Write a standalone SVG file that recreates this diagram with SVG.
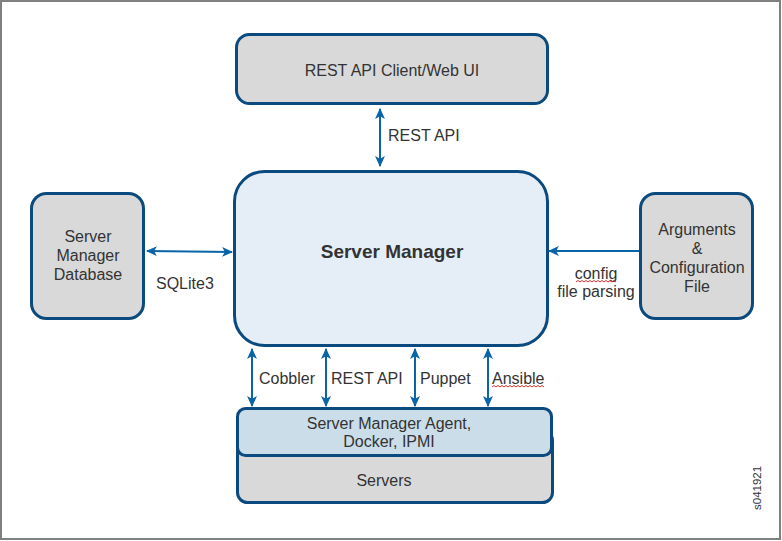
<svg xmlns="http://www.w3.org/2000/svg" width="782" height="541" viewBox="0 0 782 541">
<defs>
<marker id="ah" viewBox="0 0 10 10" refX="9" refY="5" markerWidth="11" markerHeight="11" orient="auto-start-reverse" markerUnits="userSpaceOnUse">
<path d="M0,0.5 L10,5 L0,9.5 L2.5,5 z" fill="#0a64a8"/>
</marker>
</defs>
<style>
.box{stroke:#0b4a7e;stroke-width:3}
.gray{fill:#d9d9d9}
.t{font-family:"Liberation Sans",Arial,sans-serif;font-size:16px;fill:#333;text-anchor:middle}
.l{font-family:"Liberation Sans",Arial,sans-serif;font-size:16px;fill:#333}
.b{font-weight:bold;font-size:19px}
.id{font-size:11.5px}
.c{stroke:#0a64a8;stroke-width:2;fill:none}
.sq{stroke:#e03030;stroke-width:1;fill:none}
</style>
<rect x="1" y="1" width="779" height="538" fill="#fff" stroke="#808080" stroke-width="2"/>
<g id="client">
<rect class="box gray" x="236.5" y="34.5" width="311" height="69" rx="13"/>
<text class="t" x="392" y="76">REST API Client/Web UI</text>
</g>
<g id="manager">
<rect class="box" fill="#e5eef7" x="234.5" y="171.5" width="313" height="174" rx="30"/>
<text class="t b" x="392" y="258">Server Manager</text>
</g>
<g id="database">
<rect class="box gray" x="31.5" y="193.5" width="112" height="125" rx="15"/>
<text class="t" x="88" y="242">Server</text>
<text class="t" x="88" y="261">Manager</text>
<text class="t" x="88" y="280">Database</text>
</g>
<g id="config">
<rect class="box gray" x="640.5" y="193.5" width="112" height="125" rx="15"/>
<text class="t" x="697" y="235">Arguments</text>
<text class="t" x="697" y="254">&amp;</text>
<text class="t" x="697" y="273">Configuration</text>
<text class="t" x="697" y="292">File</text>
</g>
<g id="servers">
<rect class="box gray" x="237.5" y="430.5" width="315" height="72" rx="10"/>
<text class="t" x="384" y="486">Servers</text>
</g>
<g id="agent">
<rect class="box" fill="#cbdde9" x="237.5" y="408.5" width="314" height="47" rx="8"/>
<text class="t" x="389" y="429">Server Manager Agent,</text>
<text class="t" x="389" y="447">Docker, IPMI</text>
</g>
<g id="connectors">
<line class="c" x1="380" y1="109" x2="380" y2="166" marker-start="url(#ah)" marker-end="url(#ah)"/>
<line class="c" x1="147" y1="251" x2="232" y2="252" marker-start="url(#ah)" marker-end="url(#ah)"/>
<line class="c" x1="639" y1="251" x2="549" y2="251" marker-end="url(#ah)"/>
<line class="c" x1="252" y1="349" x2="252" y2="406" marker-start="url(#ah)" marker-end="url(#ah)"/>
<line class="c" x1="326" y1="349" x2="326" y2="406" marker-start="url(#ah)" marker-end="url(#ah)"/>
<line class="c" x1="415" y1="349" x2="415" y2="406" marker-start="url(#ah)" marker-end="url(#ah)"/>
<line class="c" x1="488" y1="349" x2="488" y2="406" marker-start="url(#ah)" marker-end="url(#ah)"/>
</g>
<g id="labels">
<text class="l" x="388" y="141">REST API</text>
<text class="l" x="156" y="289">SQLite3</text>
<text class="t" x="596" y="279">config</text>
<text class="t" x="596" y="297">file parsing</text>
<text class="l" x="259" y="384">Cobbler</text>
<text class="l" x="331" y="384">REST API</text>
<text class="l" x="420" y="384">Puppet</text>
<text class="l" x="492" y="384">Ansible</text>
<path class="sq" d="M576,282 l2,-1.5 l2,1.5 l2,-1.5 l2,1.5 l2,-1.5 l2,1.5 l2,-1.5 l2,1.5 l2,-1.5 l2,1.5 l2,-1.5 l2,1.5 l2,-1.5 l2,1.5 l2,-1.5 l2,1.5 l2,-1.5 l2,1.5 l2,-1.5 l2,1.5"/>
<path class="sq" d="M492,387 l2,-1.5 l2,1.5 l2,-1.5 l2,1.5 l2,-1.5 l2,1.5 l2,-1.5 l2,1.5 l2,-1.5 l2,1.5 l2,-1.5 l2,1.5 l2,-1.5 l2,1.5 l2,-1.5 l2,1.5 l2,-1.5 l2,1.5 l2,-1.5 l2,1.5 l2,-1.5 l2,1.5 l2,-1.5 l2,1.5 l2,-1.5 l2,1.5"/>
<text class="l id" x="761" y="510" transform="rotate(-90 761 510)">s041921</text>
</g>
</svg>
